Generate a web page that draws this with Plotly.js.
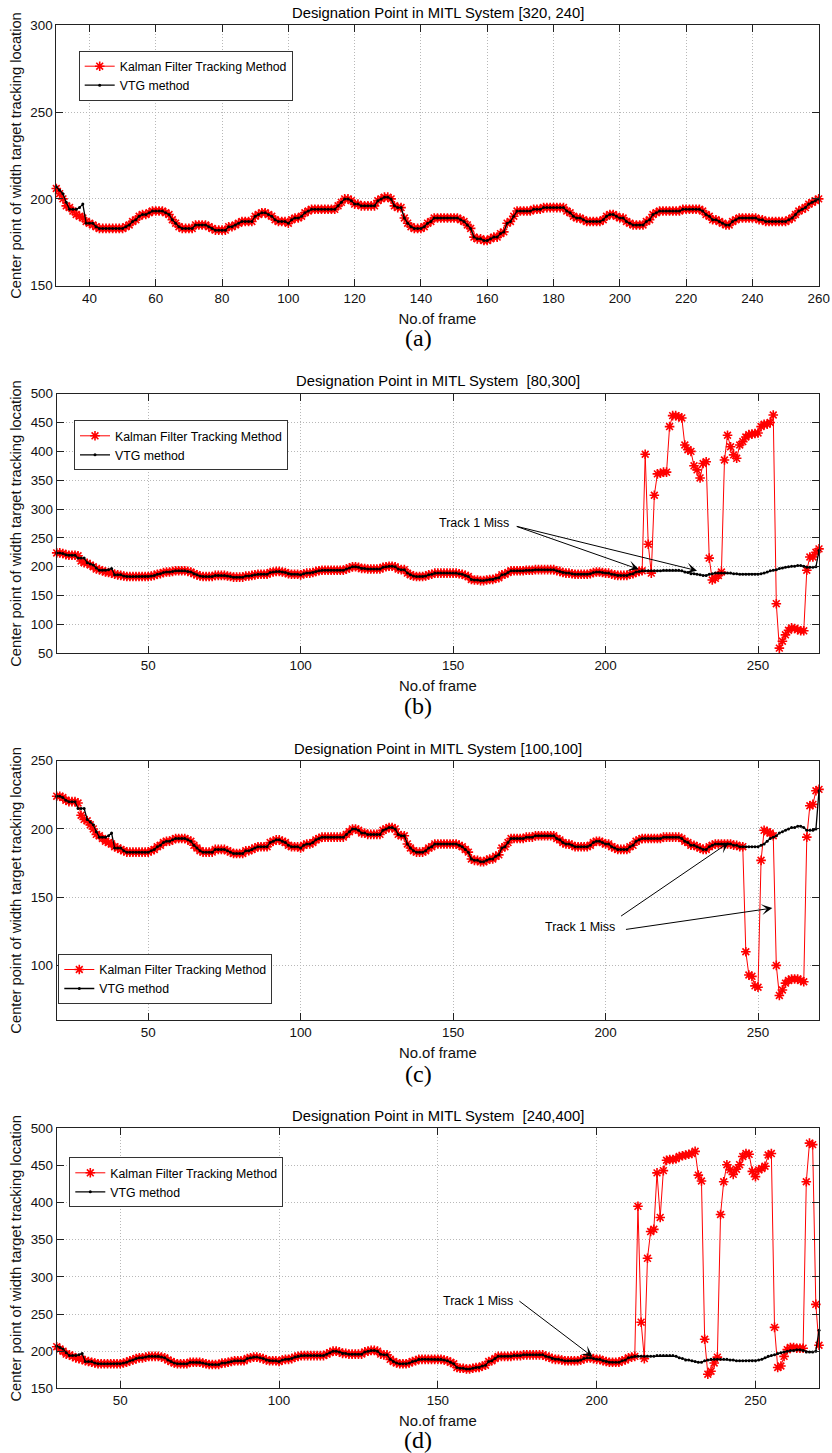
<!DOCTYPE html>
<html><head><meta charset="utf-8">
<script src="https://cdn.plot.ly/plotly-3.0.1.min.js"></script>
<style>html,body{margin:0;padding:0;background:#fff;}#chart{width:832px;height:1453px;}</style>
</head><body><div id="chart"></div>
<script>
// ---------------- DATA ----------------
const firstFrame = 20;
// VTG method: centre point per frame, frames 20..270
const vtgCenter = [
224,224,223,221,220,220,220,215,215,215,
207,205,203,198,194,194,194,195,197,186,
186,186,184,183,183,183,183,183,183,183,
183,184,185,187,188,190,191,191,192,193,
193,193,193,192,191,188,186,184,183,183,
183,183,185,185,185,185,184,183,182,182,
182,182,184,184,185,186,187,187,187,187,
190,191,192,192,191,190,188,187,187,187,
186,188,189,189,190,192,193,194,194,194,
194,194,194,194,194,196,198,200,200,199,
197,197,196,196,196,196,196,199,200,201,
201,200,196,195,195,189,186,184,183,183,
183,184,186,187,189,189,189,189,189,189,
189,189,188,187,185,183,178,177,177,176,
176,177,178,178,180,181,186,187,190,193,
193,193,193,193,194,194,194,195,195,195,
195,195,195,195,193,192,190,189,189,188,
187,187,187,187,187,188,190,191,191,190,
189,189,187,186,185,185,185,185,187,188,
191,192,193,193,193,193,193,193,193,194,
194,194,194,194,194,193,191,190,188,188,
187,186,185,185,187,188,189,189,189,189,
189,189,188,188,187,187,187,187,187,187,
187,188,189,191,193,194,195,197,198,199,
200,201,201,202,202,201,199,199,199,200,
228];
// Kalman filter while tracking correctly, frames 20..270
const kalmanCenter = [
224,224,223,221,220,220,220,219,210,207,
206,203,200,196,195,193,191,190,189,187,
186,185,184,183,183,183,183,183,183,183,
183,184,185,187,188,190,191,191,192,193,
193,193,193,192,191,188,186,184,183,183,
183,183,185,185,185,185,184,183,182,182,
182,182,184,184,185,186,187,187,187,187,
190,191,192,192,191,190,188,187,187,187,
186,188,189,189,190,192,193,194,194,194,
194,194,194,194,194,196,198,200,200,199,
197,197,196,196,196,196,196,199,200,201,
201,200,196,195,195,189,186,184,183,183,
183,184,186,187,189,189,189,189,189,189,
189,189,188,187,185,183,178,177,177,176,
176,177,178,178,180,181,186,187,190,193,
193,193,193,193,194,194,194,195,195,195,
195,195,195,195,193,192,190,189,189,188,
187,187,187,187,187,188,190,191,191,190,
189,189,187,186,185,185,185,185,187,188,
191,192,193,193,193,193,193,193,193,194,
194,194,194,194,194,193,191,190,188,188,
187,186,185,185,187,188,189,189,189,189,
189,189,188,188,187,187,187,187,187,187,
187,188,189,191,193,194,195,197,198,199,
200,201,201,202,202,201,199,199,199,200,
228];
// Kalman lost-track segments
const tailBStart = 213;
const kalmanTailB = [
395,239,189,324,361,362,364,364,443,462,
462,460,458,411,403,400,375,368,354,379,
382,215,177,180,185,191,385,428,408,394,
388,411,417,425,429,430,431,432,443,447,
447,450,463,136,59,71,82,90,94,93,
91,89,89,194,217,217,225,231];
const tailCStart = 246;
const kalmanTailC = [
110,93,92,85,84,177,199,198,197,195,
100,78,82,87,89,90,90,90,89,88,
194,217,218,228,229];
const tailDStart = 213;
const kalmanTailD = [
395,239,190,325,361,364,440,380,443,457,
458,458,459,462,463,464,465,466,469,437,
429,216,169,173,184,192,384,428,451,444,
438,445,451,462,466,465,442,435,444,446,
449,464,466,232,178,180,193,202,205,205,
204,204,204,428,480,478,263,208];

const panelTitles = [
  'Designation Point in MITL System [320, 240]',
  'Designation Point in MITL System \u00A0[80,300]',
  'Designation Point in MITL System [100,100]',
  'Designation Point in MITL System \u00A0[240,400]'];
const panelLabels = ['(a)','(b)','(c)','(d)'];
const frameSpan = [[30,260],[20,270],[20,270],[30,270]];
const yRanges = [[150,300],[50,500],[60,250],[150,500]];
const xDticks = [20,50,50,50];
const seriesNames = ['Kalman Filter Tracking Method','VTG method'];
const yTitle = 'Center point of width target tracking location';
const xTitle = 'No.of frame';
const missText = 'Track 1 Miss';

// ---------------- LAYOUT GEOMETRY ----------------
const W = 832, H = 1453;
const rects = [ // left, right, top, bottom in px
  [56.3,818.7,25.3,285.7],
  [56.7,819,393.7,653.3],
  [56.7,819,760.7,1020],
  [56.7,819,1128.3,1388.3]];
const legendPos = [[78.7,50.7],[74,420.3],[58.3,954],[69.3,1157.3]];
const titleY = [13.5,381,748.5,1116];
const labelY = [338,706,1074,1440];
const tails = [null,[kalmanTailB,tailBStart],[kalmanTailC,tailCStart],[kalmanTailD,tailDStart]];

const fx = p => p / W, fy = p => 1 - p / H;
const FONT = 'Liberation Sans, Arial, sans-serif';

const traces = [];
const layout = {
  width: W, height: H, margin: {l:0,r:0,t:0,b:0},
  paper_bgcolor:'#fff', plot_bgcolor:'#fff', showlegend:true,
  font:{family:FONT,color:'#000'},
  annotations: []
};

for (let i = 0; i < 4; i++) {
  const sfx = i === 0 ? '' : String(i+1);
  const xa = 'x' + sfx, ya = 'y' + sfx;
  const lg = i === 0 ? 'legend' : 'legend' + (i+1);
  const [f0, f1] = frameSpan[i];
  const frames = [], kal = [], vtg = [];
  for (let f = f0; f <= f1; f++) {
    frames.push(f);
    vtg.push(vtgCenter[f - firstFrame]);
    const t = tails[i];
    kal.push(t && f >= t[1] ? t[0][f - t[1]] : kalmanCenter[f - firstFrame]);
  }
  traces.push({x:frames, y:kal, xaxis:xa, yaxis:ya, legend:lg, name:seriesNames[0],
    type:'scatter', mode:'lines+markers', cliponaxis:false,
    line:{color:'rgb(255,0,0)', width:1},
    marker:{symbol:'asterisk-open', size:8, color:'rgb(255,0,0)', line:{color:'rgb(255,0,0)', width:1.6}}});
  traces.push({x:frames, y:vtg, xaxis:xa, yaxis:ya, legend:lg, name:seriesNames[1],
    type:'scatter', mode:'lines+markers', cliponaxis:false,
    line:{color:'#000', width:1.3},
    marker:{symbol:'circle', size:3, color:'#000'}});

  const r = rects[i];
  const axCommon = {showline:true, mirror:'ticks', linecolor:'#222', linewidth:1,
    ticks:'inside', ticklen:7, tickcolor:'#222', showgrid:true, gridcolor:'#b8b8b8',
    griddash:'1px,2px', gridwidth:1, zeroline:false, automargin:false,
    tickfont:{family:FONT, size:13.4, color:'#111'}};
  layout['xaxis' + sfx] = Object.assign({}, axCommon, {
    domain:[fx(r[0]), fx(r[1])], anchor:ya, range:[frameSpan[i][0], frameSpan[i][1]],
    dtick:xDticks[i], tick0:0,
    title:{text:xTitle, font:{family:FONT, size:14.9, color:'#111'}, standoff:8}});
  layout['yaxis' + sfx] = Object.assign({}, axCommon, {
    domain:[fy(r[3]), fy(r[2])], anchor:xa, range:yRanges[i], dtick:50, tick0:0,
    title:{text:yTitle, font:{family:FONT, size:14.7, color:'#111'}, standoff:5}});
  const lp = legendPos[i];
  layout[lg] = {x:fx(lp[0]), y:fy(lp[1]), xanchor:'left', yanchor:'top',
    bgcolor:'#fff', bordercolor:'#333', borderwidth:1,
    font:{family:FONT, size:12.3, color:'#000'}, tracegroupgap:0};
  layout.annotations.push({xref:'paper', yref:'paper', x:fx((r[0]+r[1])/2), y:fy(titleY[i]),
    xanchor:'center', yanchor:'middle', showarrow:false, text:panelTitles[i],
    font:{family:FONT, size:14.8, color:'#000'}});
  layout.annotations.push({xref:'paper', yref:'paper', x:fx(418), y:fy(labelY[i]),
    xanchor:'center', yanchor:'middle', showarrow:false, text:panelLabels[i],
    font:{family:'Liberation Serif, Times New Roman, serif', size:24, color:'#000'}});
}

// "Track 1 Miss" callouts (data coordinates of each panel)
function miss(sfx, tx, ty, arrows) {
  layout.annotations.push({xref:'x'+sfx, yref:'y'+sfx, x:tx, y:ty, text:missText, showarrow:false,
    font:{family:FONT, size:12.5, color:'#000'}});
  arrows.forEach(a => layout.annotations.push({xref:'x'+sfx, yref:'y'+sfx, axref:'x'+sfx, ayref:'y'+sfx,
    x:a[2], y:a[3], ax:a[0], ay:a[1], text:'', showarrow:true, arrowhead:3, arrowsize:1.8,
    arrowwidth:1, arrowcolor:'#000', standoff:0, startstandoff:0}));
}
miss('2', 156.8, 276.7, [[170.4,270.7,210.9,195.6],[170.4,270.7,230.0,193.2]]);
miss('3', 191.6, 128.1, [[204.6,135.4,240.4,190.0],[206.2,126.2,254.7,142.0]]);
miss('4', 162.6, 267.5, [[175.2,268.9,198.7,192.6]]);

Plotly.newPlot('chart', traces, layout, {displayModeBar:false, staticPlot:true});
</script></body></html>
